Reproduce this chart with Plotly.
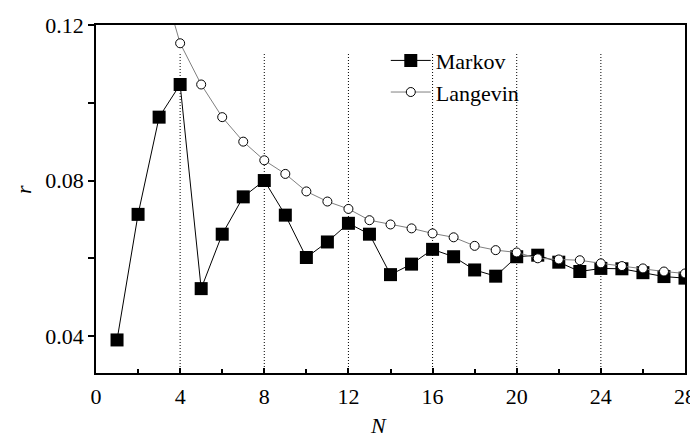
import plotly.graph_objects as go

N_markov = list(range(1, 29))
markov = [0.0390, 0.0713, 0.0963, 0.1047, 0.0522, 0.0662, 0.0758, 0.0800,
          0.0711, 0.0602, 0.0642, 0.0690, 0.0662, 0.0558, 0.0585, 0.0623,
          0.0604, 0.0570, 0.0554, 0.0604, 0.0608, 0.0590, 0.0566, 0.0574,
          0.0573, 0.0563, 0.0553, 0.0549]

N_langevin = list(range(3, 29))
langevin = [0.1340, 0.1153, 0.1047, 0.0963, 0.0900, 0.0852, 0.0817, 0.0772,
            0.0746, 0.0727, 0.0698, 0.0687, 0.0677, 0.0664, 0.0654, 0.0632,
            0.0621, 0.0615, 0.0600, 0.0597, 0.0595, 0.0587, 0.0580, 0.0574,
            0.0566, 0.0561]

guide_N = [4, 8, 12, 16, 20, 24]
guide_top = 0.1128

x_tickvals = [0, 4, 8, 12, 16, 20, 24, 28]
y_tickvals = [0.04, 0.08, 0.12]
y_ticktext = ["0.04", "0.08", "0.12"]

FONT = "Liberation Serif, Times New Roman, serif"

fig = go.Figure()

fig.add_trace(go.Scatter(
    x=N_markov, y=markov, name="Markov", mode="lines+markers",
    line=dict(color="black", width=1),
    marker=dict(symbol="square", size=13, color="black",
                line=dict(color="black", width=0)),
))
fig.add_trace(go.Scatter(
    x=N_langevin, y=langevin, name="Langevin", mode="lines+markers",
    line=dict(color="#808080", width=1),
    marker=dict(symbol="circle", size=9, color="white",
                line=dict(color="black", width=1)),
))

ymin = 0.0305
for n in guide_N:
    fig.add_shape(type="line", xref="x", yref="y", x0=n, x1=n, y0=ymin, y1=guide_top,
                  line=dict(color="black", width=1, dash="1px,2px"), layer="below")

# axis titles as annotations
fig.add_annotation(text="<i>N</i>", xref="paper", yref="paper", x=0.48, y=-0.15,
                   xanchor="center", yanchor="middle", showarrow=False,
                   font=dict(family=FONT, size=22, color="black"))
fig.add_annotation(text="<i>r</i>", xref="paper", yref="paper", x=-0.122, y=0.526,
                   xanchor="center", yanchor="middle", showarrow=False, textangle=-90,
                   font=dict(family=FONT, size=22, color="black"))

fig.update_layout(
    width=690, height=432,
    margin=dict(l=88, r=13, t=17, b=67),
    plot_bgcolor="white", paper_bgcolor="white",
    font=dict(family=FONT, size=22, color="black"),
    showlegend=True,
    legend=dict(x=0.492, y=0.958, xanchor="left", yanchor="top",
                bgcolor="rgba(0,0,0,0)", font=dict(family=FONT, size=22),
                tracegroupgap=0, itemwidth=40),
    xaxis=dict(
        range=[0, 28], tickvals=x_tickvals, ticks="inside", ticklen=5,
        tickwidth=1.5, tickcolor="black", automargin=False, ticklabelstandoff=3,
        minor=dict(dtick=2, tick0=0, ticks="inside", ticklen=4, tickwidth=1.5,
                   tickcolor="black"),
        showline=True, linecolor="black", linewidth=1.5, mirror=True,
        showgrid=False, zeroline=False,
        tickfont=dict(family=FONT, size=22),
    ),
    yaxis=dict(
        range=[ymin, 0.12], tickvals=y_tickvals, ticktext=y_ticktext,
        ticks="outside", ticklen=6, tickwidth=1.5, tickcolor="black", automargin=False,
        minor=dict(dtick=0.02, tick0=0, ticks="outside", ticklen=6, tickwidth=1.5,
                   tickcolor="black"),
        showline=True, linecolor="black", linewidth=1.5, mirror=True,
        showgrid=False, zeroline=False,
        tickfont=dict(family=FONT, size=22),
    ),
)

fig.write_html("out.html")
